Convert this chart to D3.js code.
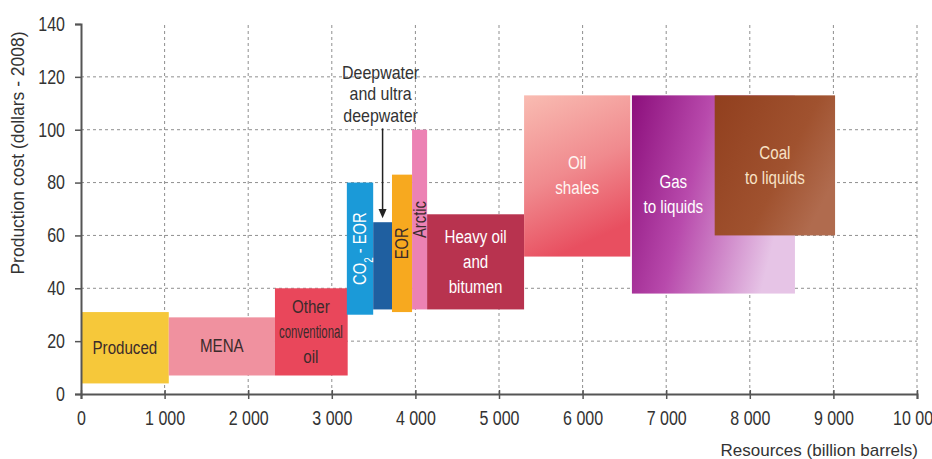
<!DOCTYPE html>
<html lang="en">
<head>
    <meta charset="UTF-8">
    <title>Oil production cost curve</title>
    <script src="https://d3js.org/d3.v7.min.js"></script>
    <style>
        body { margin: 0; background: #fff; }
        text { font-family: "Liberation Sans", Arial, sans-serif; }
    </style>
</head>
<body>
    <svg id="chart"></svg>

    <script>
        // Data
        const categories = ["Produced", "MENA", "Other conventional oil", "CO2 - EOR", "Deepwater and ultra deepwater",
                            "EOR", "Arctic", "Heavy oil and bitumen", "Oil shales", "Gas to liquids", "Coal to liquids"];
        const resStart = [0, 1050, 2320, 3180, 3495, 3720, 3960, 4140, 5300, 6590, 7580];
        const resEnd   = [1050, 2320, 3190, 3495, 3720, 3960, 4140, 5300, 6570, 8540, 9020];
        const costLow  = [4, 7, 7, 30, 32, 31, 32, 32, 52, 38, 60];
        const costHigh = [31, 29, 40, 80, 65, 83, 100, 68, 113, 113, 113];
        const labelLines = [["Produced"], ["MENA"], ["Other", "conventional", "oil"], ["CO2 - EOR"], [],
                            ["EOR"], ["Arctic"], ["Heavy oil", "and", "bitumen"], ["Oil", "shales"],
                            ["Gas", "to liquids"], ["Coal", "to liquids"]];
        const calloutLines = ["Deepwater", "and ultra", "deepwater"];
        const xTicks = [0, 1000, 2000, 3000, 4000, 5000, 6000, 7000, 8000, 9000, 10000];
        const yTicks = [0, 20, 40, 60, 80, 100, 120, 140];

        // styling
        const fills = ["#f6c83a", "#f0919f", "#e9475b", "#1b9ad8", "#1f5fa0", "#f7a91f", "#ec82b4",
                       "#b8334f", "url(#gShale)", "url(#gGas)", "url(#gCoal)"];
        const textColors = ["#3b2b2b", "#3b2b2b", "#3b2b2b", "#ffffff", "#fff", "#3b2b2b", "#3b2b2b",
                            "#ffffff", "#fff6f2", "#ffffff", "#f8e2c6"];
        const rotated = [false, false, false, true, false, true, true, false, false, false, false];

        const width = 932, height = 459;
        const x = d3.scaleLinear().domain([0, 10000]).range([81, 917]);
        const y = d3.scaleLinear().domain([0, 140]).range([394, 24]);
        const fmt = d3.formatLocale({decimal: ".", thousands: " ", grouping: [3], currency: ["", ""]}).format(",");

        const svg = d3.select("#chart").attr("width", width).attr("height", height);

        // squeeze text horizontally to imitate the condensed face of the original
        function narrow(sel, k, maxW) {
            sel.each(function() {
                let w = this.getComputedTextLength() * k;
                if (maxW && w > maxW) w = maxW;
                d3.select(this).attr("textLength", w).attr("lengthAdjust", "spacingAndGlyphs");
            });
        }

        // gradients for the three unconventional blocks
        const defs = svg.append("defs");
        function grad(id, x2, y2, stops) {
            const g = defs.append("linearGradient").attr("id", id)
                .attr("x1", 0).attr("y1", 0).attr("x2", x2).attr("y2", y2);
            stops.forEach(s => g.append("stop").attr("offset", s[0]).attr("stop-color", s[1]));
        }
        grad("gShale", 0.3, 1, [[0, "#f9bcb2"], [0.55, "#f08a8e"], [1, "#e84f60"]]);
        grad("gGas", 1, 0.3, [[0, "#8c0f7c"], [0.45, "#b84aac"], [1, "#e6c4e6"]]);
        grad("gCoal", 1, 0.6, [[0, "#913f1e"], [0.65, "#a0522f"], [1, "#b06b4e"]]);

        // grid
        svg.append("g").selectAll("line")
            .data(yTicks.filter(d => d > 0 && d < 140))
            .join("line")
            .attr("x1", x(0)).attr("x2", x(10000))
            .attr("y1", d => y(d)).attr("y2", d => y(d))
            .attr("stroke", "#8f8f8f").attr("stroke-width", 1).attr("stroke-dasharray", "3,3");
        svg.append("g").selectAll("line")
            .data(xTicks.filter(d => d > 0))
            .join("line")
            .attr("x1", d => x(d)).attr("x2", d => x(d))
            .attr("y1", y(0)).attr("y2", y(140))
            .attr("stroke", "#8f8f8f").attr("stroke-width", 1).attr("stroke-dasharray", "3,3");

        // blocks
        const idx = d3.range(categories.length);
        svg.append("g").selectAll("rect")
            .data(idx)
            .join("rect")
            .attr("x", i => x(resStart[i]))
            .attr("y", i => y(costHigh[i]))
            .attr("width", i => x(resEnd[i]) - x(resStart[i]))
            .attr("height", i => y(costLow[i]) - y(costHigh[i]))
            .attr("fill", i => fills[i]);

        // block labels, centred on the visible part of each block
        const labels = svg.append("g");
        idx.forEach(i => {
            if (!labelLines[i].length) return;
            let end = resEnd[i];
            if (i + 1 < idx.length && resStart[i + 1] < end) end = resStart[i + 1];
            const cx = x((resStart[i] + end) / 2);
            const cy = y((costLow[i] + costHigh[i]) / 2);
            const boxW = x(end) - x(resStart[i]) - 8;
            const lh = 25;
            const t = labels.append("text")
                .attr("text-anchor", "middle")
                .attr("fill", textColors[i])
                .style("font-size", "18px");
            if (rotated[i]) {
                t.attr("transform", `translate(${cx + 6},${cy}) rotate(-90)`);
                if (categories[i] === "CO2 - EOR") {
                    t.append("tspan").text("CO");
                    t.append("tspan").text("2").attr("baseline-shift", "sub").style("font-size", "12px");
                    t.append("tspan").text(" - EOR");
                } else {
                    t.text(labelLines[i][0]);
                }
                narrow(t, 0.82);
            } else {
                const n = labelLines[i].length;
                labelLines[i].forEach((s, k) => {
                    const ts = t.append("tspan").attr("x", cx)
                        .attr("y", cy + (k - (n - 1) / 2) * lh + 6)
                        .text(s);
                    narrow(ts, 0.84, boxW);
                });
            }
        });

        // deepwater callout with arrow
        const dw = 4;
        const ax = x((resStart[dw] + resEnd[dw]) / 2);
        const callout = svg.append("g");
        calloutLines.forEach((s, k) => {
            const t = callout.append("text")
                .attr("x", ax - 2).attr("y", y(121.5) + 6 + k * 21.5)
                .attr("text-anchor", "middle")
                .attr("fill", "#333")
                .style("font-size", "19px")
                .text(s);
            narrow(t, 0.84);
        });
        callout.append("line")
            .attr("x1", ax).attr("x2", ax)
            .attr("y1", y(100.5)).attr("y2", y(costHigh[dw] + 4))
            .attr("stroke", "#222").attr("stroke-width", 1.5);
        callout.append("path")
            .attr("d", `M${ax - 4},${y(costHigh[dw] + 5)} L${ax + 4},${y(costHigh[dw] + 5)} L${ax},${y(costHigh[dw] + 1.5)} Z`)
            .attr("fill", "#222");

        // axes
        const xAxis = svg.append("g")
            .attr("transform", `translate(0,${y(0)})`)
            .call(d3.axisBottom(x).tickValues(xTicks).tickFormat(fmt).tickSize(5).tickPadding(12));
        const yAxis = svg.append("g")
            .attr("transform", `translate(${x(0)},0)`)
            .call(d3.axisLeft(y).tickValues(yTicks).tickSize(6).tickPadding(10));
        [xAxis, yAxis].forEach(a => {
            a.select(".domain").attr("stroke", "#555").attr("stroke-width", 2);
            a.selectAll(".tick line").attr("stroke", "#555").attr("stroke-width", 1.5);
            a.selectAll(".tick text").attr("fill", "#333")
                .style("font-family", '"Liberation Sans", Arial, sans-serif')
                .style("font-size", "20px");
            narrow(a.selectAll(".tick text"), 0.8);
        });
        xAxis.selectAll(".tick line").attr("y1", -4);

        // axis titles
        svg.append("text")
            .attr("x", 918).attr("y", 456)
            .attr("text-anchor", "end")
            .attr("fill", "#333")
            .style("font-size", "17px")
            .text("Resources (billion barrels)");
        svg.append("text")
            .attr("transform", "translate(24,153) rotate(-90)")
            .attr("text-anchor", "middle")
            .attr("fill", "#333")
            .style("font-size", "17.5px")
            .text("Production cost (dollars - 2008)");
    </script>
</body>
</html>
